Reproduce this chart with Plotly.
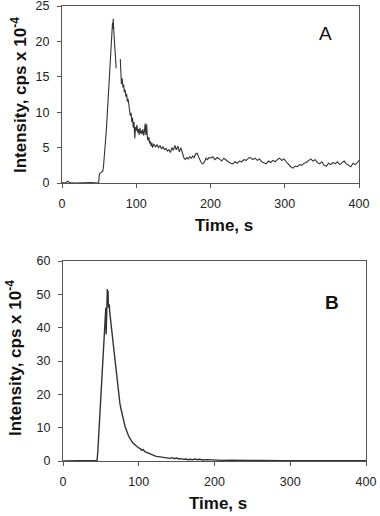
import plotly.graph_objects as go

# ---------------- Panel A data ----------------
time_a = [0, 4, 8, 10, 16, 24, 32, 40, 48, 49.5,
          50, 51, 53, 55, 56, 57, 58, 59, 60, 61, 62, 63, 64, 65, 66, 67, 68, 68.5, 69, 70, 71, 72, 73,
          75,
          78.5, 79, 80, 81, 82, 83, 84, 85, 86, 87, 88, 89, 90, 91, 92, 93, 94, 95, 96, 97, 98, 99,
          100, 101, 102, 103, 104, 105, 106, 107, 108, 109, 110, 111, 112, 113, 114, 115, 116, 117, 118, 119,
          120, 121, 122, 124, 126, 128, 130, 132, 134, 136, 138, 140, 142, 144, 146, 148, 150, 152, 154, 156,
          158, 160, 162, 164, 166, 168, 170, 172, 174, 176, 178, 180, 182, 184, 186, 188, 190, 192, 194, 196,
          198, 200, 203, 206, 209, 212, 215, 218, 221, 224, 227, 230, 233, 236, 239, 242, 245, 248, 251, 254,
          257, 260, 263, 266, 269, 272, 275, 278, 281, 284, 287, 290, 293, 296, 299, 302, 305, 308, 311, 314,
          317, 320, 323, 326, 329, 332, 335, 338, 341, 344, 347, 350, 353, 356, 359, 362, 365, 368, 371, 374,
          377, 380, 383, 386, 389, 392, 395, 398, 400]
intensity_a = [0.05, 0.0, 0.25, 0.05, 0.0, 0.05, 0.0, 0.05, 0.0, 0.1,
               1.0, 1.4, 1.5, 1.7, 2.5, 3.5, 5.0, 6.5, 8.0, 10.0, 12.0, 14.5, 16.5, 18.5, 20.5, 22.0, 22.6, 21.8, 23.2, 21.0, 19.0, 17.5, 16.2,
               None,
               17.5, 15.0, 14.0, 14.8, 13.5, 13.9, 12.8, 13.2, 12.2, 12.6, 11.5, 11.9, 10.8, 10.2, 9.5, 9.9, 8.6, 9.2, 7.8, 8.6, 6.3, 7.9,
               7.4, 8.2, 7.1, 7.6, 6.8, 7.8, 7.0, 7.4, 6.9, 7.6, 6.7, 7.3, 8.4, 6.8, 8.3, 6.4, 6.0, 6.5, 5.6, 5.9,
               5.2, 5.7, 5.0, 5.5, 5.1, 5.4, 5.0, 5.3, 4.8, 5.1, 4.7, 4.9, 4.5, 4.7, 4.3, 5.0, 4.6, 5.3, 4.7, 5.2,
               4.4, 5.0, 4.1, 3.6, 3.3, 3.6, 3.4, 3.7, 3.5, 3.8, 3.6, 4.1, 4.2, 3.6, 3.2, 2.8, 2.7, 3.0, 3.5, 3.3,
               3.6, 3.5, 3.7, 3.3, 3.6, 3.4, 3.1, 3.5, 3.2, 3.0, 2.8, 2.7, 3.0, 2.8, 3.1, 3.0, 3.3, 3.2, 3.5, 3.6,
               3.3, 3.5, 3.2, 3.4, 3.0, 2.8, 2.7, 3.1, 2.9, 3.2, 3.0, 3.3, 3.5, 3.2, 3.4, 3.0, 2.6, 2.3, 2.1, 2.4,
               2.3, 2.6, 2.5, 2.8, 2.9, 3.2, 3.4, 3.1, 3.3, 2.9, 2.7, 3.0, 2.5, 2.4, 2.8, 2.6, 2.9, 2.7, 3.0, 2.6,
               2.8, 3.1, 2.7, 2.5, 2.3, 2.8, 2.6, 2.9, 3.2]

# ---------------- Panel B data ----------------
time_b = [0, 10, 20, 30, 40, 44, 45, 46, 47, 48, 49, 50, 51, 52, 53, 54, 55, 56, 56.5, 57, 57.5, 58, 58.5, 59, 59.5,
          60, 61, 62, 63, 64, 65, 66, 67, 68, 69, 70, 71, 72, 73, 74, 75, 76, 77, 78, 79, 80, 81, 82, 83, 84,
          85, 86, 87, 88, 89, 90, 92, 94, 96, 98, 100, 102, 104, 106, 108, 110, 112, 114, 116, 118, 120, 123,
          126, 129, 132, 135, 138, 141, 144, 147, 150, 153, 156, 159, 162, 165, 168, 171, 174, 177, 180, 185,
          190, 195, 200, 210, 220, 230, 240, 250, 260, 270, 280, 290, 300, 320, 340, 360, 380, 400]
intensity_b = [0, 0, 0, 0, 0, 0, 0.2, 3, 7, 10.5, 14, 18, 22, 27, 32, 35, 39, 44, 46, 38, 42, 50, 51.6, 49, 51,
               46, 47, 44, 42, 40, 37.5, 35, 32.5, 30.5, 28, 26, 24, 22.5, 20.5, 19, 17.5, 16.2, 15, 13.8, 12.8, 12, 11.2, 10.3, 9.6, 9.2,
               8.4, 8.0, 7.3, 6.9, 6.4, 6.2, 5.5, 5.0, 4.6, 4.3, 3.9, 3.7, 3.2, 3.4, 2.8, 2.6, 2.4, 2.3, 2.0, 1.9, 1.6, 1.4,
               1.3, 1.2, 1.0, 1.1, 0.9, 0.8, 1.0, 0.7, 0.9, 0.6, 0.7, 0.5, 0.6, 0.4, 0.5, 0.4, 0.6, 0.4, 0.5, 0.3,
               0.4, 0.3, 0.3, 0.2, 0.25, 0.15, 0.2, 0.15, 0.2, 0.1, 0.15, 0.1, 0.1, 0.1, 0.1, 0.15, 0.1, 0.1]

x_ticks = [0, 100, 200, 300, 400]
y_ticks_a = [0, 5, 10, 15, 20, 25]
y_ticks_b = [0, 10, 20, 30, 40, 50, 60]

W, H = 380, 516
FONT = "Liberation Sans, Arial, sans-serif"
LINE = "#333333"
AX = "#555555"

fig = go.Figure()
fig.add_trace(go.Scatter(x=time_a, y=intensity_a, mode="lines", connectgaps=False,
                         line=dict(color=LINE, width=1.1), xaxis="x", yaxis="y", showlegend=False))
fig.add_trace(go.Scatter(x=time_b, y=intensity_b, mode="lines",
                         line=dict(color=LINE, width=1.4), xaxis="x2", yaxis="y2", showlegend=False))

def px_x(p):
    return p / W

def px_y(p):
    return 1 - p / H

axis_common = dict(showline=True, linecolor=AX, linewidth=1, mirror=True, ticks="outside",
                   ticklen=4, tickcolor=AX, showgrid=False, zeroline=False, automargin=False,
                   ticklabeloverflow="allow",
                   tickfont=dict(family=FONT, size=12.5, color="#222222"))

fig.update_layout(
    width=W, height=H, margin=dict(l=0, r=0, t=0, b=0, pad=0),
    paper_bgcolor="white", plot_bgcolor="white",
    xaxis=dict(domain=[px_x(62), px_x(359)], range=[0, 400], tickvals=x_ticks, anchor="y",
               ticklabelstandoff=5, **axis_common),
    yaxis=dict(domain=[px_y(183), px_y(6)], range=[0, 25], tickvals=y_ticks_a, anchor="x",
               ticklabelstandoff=5, **axis_common),
    xaxis2=dict(domain=[px_x(63), px_x(366)], range=[0, 400], tickvals=x_ticks, anchor="y2",
                ticklabelstandoff=5, **axis_common),
    yaxis2=dict(domain=[px_y(461), px_y(261)], range=[0, 60], tickvals=y_ticks_b, anchor="x2",
                ticklabelstandoff=5, **axis_common),
)

ytitle = "<b>Intensity, cps x 10<sup>-4</sup></b>"
ann = [
    dict(text=ytitle, x=px_x(19), y=px_y(95), textangle=-90),
    dict(text=ytitle, x=px_x(14), y=px_y(358), textangle=-90),
    dict(text="<b>Time, s</b>", x=px_x(224), y=px_y(225)),
    dict(text="<b>Time, s</b>", x=px_x(218), y=px_y(503)),
    dict(text="A", x=px_x(325), y=px_y(33), font=dict(family=FONT, size=19, color="#111111")),
    dict(text="<b>B</b>", x=px_x(332), y=px_y(302), font=dict(family=FONT, size=19, color="#111111")),
]
for a in ann:
    a.setdefault("font", dict(family=FONT, size=17, color="#111111"))
    a.update(xref="paper", yref="paper", showarrow=False, xanchor="center", yanchor="middle")
fig.update_layout(annotations=ann)

fig.write_html("out.html", config={"displayModeBar": False},
               post_script="document.body.style.margin='0';document.body.style.overflow='hidden';")
